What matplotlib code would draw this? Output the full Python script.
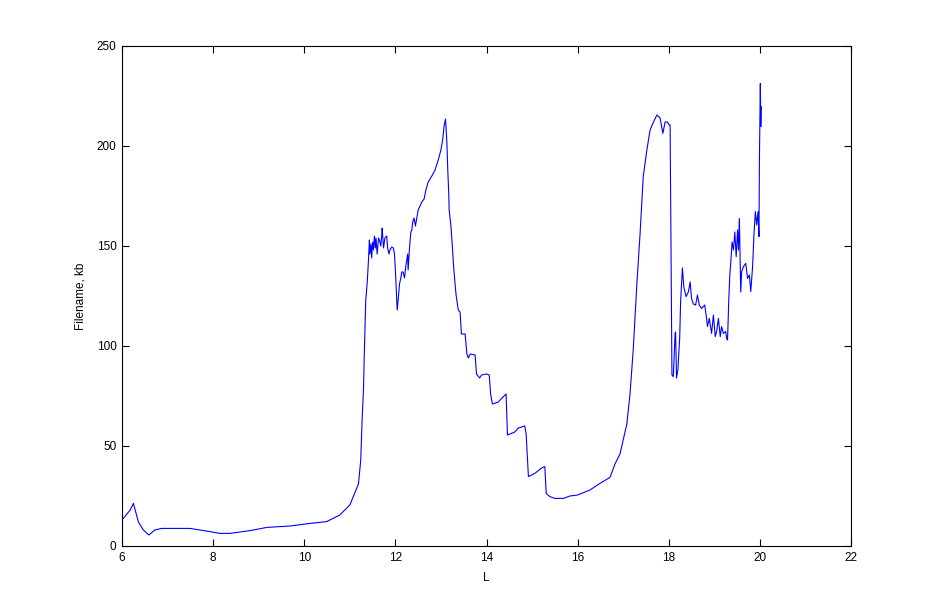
import matplotlib
matplotlib.use('Agg')
import matplotlib.pyplot as plt

# Значення
x_vals = [6.00, 6.18, 6.25, 6.36, 6.47, 6.59, 6.72, 6.87, 7.49, 7.93, 8.15, 8.37, 8.81,
          9.18, 9.69, 10.13, 10.49, 10.78, 11.00, 11.19, 11.24, 11.27, 11.30, 11.32,
          11.35, 11.38, 11.41, 11.43, 11.44, 11.465, 11.48, 11.50, 11.52, 11.54, 11.56,
          11.575, 11.60, 11.63, 11.65, 11.68, 11.70, 11.71, 11.74, 11.77, 11.81, 11.83,
          11.86, 11.88, 11.92, 11.955, 11.98, 12.00, 12.03, 12.04, 12.065, 12.09, 12.12,
          12.14, 12.17, 12.20, 12.23, 12.25, 12.27, 12.28, 12.31, 12.34, 12.36, 12.38,
          12.41, 12.44, 12.47, 12.50, 12.54, 12.58, 12.63, 12.67, 12.72, 12.80, 12.87,
          12.94, 13.00, 13.04, 13.07, 13.10, 13.11, 13.13, 13.15, 13.17, 13.18, 13.22,
          13.25, 13.28, 13.33, 13.38, 13.42, 13.45, 13.53, 13.57, 13.60, 13.64, 13.75,
          13.78, 13.85, 13.89, 14.00, 14.06, 14.09, 14.13, 14.26, 14.33, 14.43, 14.46,
          14.62, 14.70, 14.84, 14.87, 14.92, 15.06, 15.21, 15.28, 15.31, 15.39, 15.50,
          15.69, 15.83, 16.00, 16.27, 16.49, 16.71, 16.82, 16.93, 17.00, 17.08, 17.15,
          17.22, 17.30, 17.37, 17.44, 17.52, 17.59, 17.65, 17.74, 17.81, 17.87, 17.92,
          17.97, 18.01, 18.03, 18.05, 18.07, 18.10, 18.12, 18.14, 18.15, 18.17, 18.20,
          18.24, 18.26, 18.30, 18.33, 18.38, 18.43, 18.47, 18.50, 18.54, 18.59, 18.63,
          18.67, 18.72, 18.79, 18.83, 18.85, 18.89, 18.94, 18.98, 19.02, 19.05, 19.09,
          19.13, 19.16, 19.20, 19.25, 19.27, 19.29, 19.32, 19.34, 19.36, 19.39, 19.42,
          19.45, 19.48, 19.51, 19.53, 19.55, 19.58, 19.60, 19.64, 19.69, 19.73, 19.77,
          19.80, 19.84, 19.87, 19.90, 19.93, 19.96, 19.98, 19.99, 20.01, 20.02, 20.03]
y_vals = [13.0, 18.0, 21.3, 12.0, 8.0, 5.5, 8.0, 8.8, 8.8, 7.2, 6.3, 6.3, 7.7,
          9.3, 10.0, 11.3, 12.2, 15.5, 20.5, 31.0, 43.0, 63.0, 78.0, 98.0,
          123.0, 131.0, 143.0, 153.0, 146.0, 151.0, 144.0, 152.0, 148.0, 155.0, 149.0,
          154.0, 146.0, 154.0, 153.0, 150.0, 155.0, 159.0, 149.0, 154.0, 155.0, 149.0,
          146.0, 148.0, 149.5, 149.0, 146.0, 138.0, 123.0, 118.0, 124.0, 131.0, 134.0,
          137.0, 137.0, 134.0, 140.0, 143.0, 146.0, 138.0, 149.0, 157.0, 158.0, 162.0,
          164.0, 160.0, 164.0, 168.0, 170.0, 172.0, 173.5, 178.0, 182.0, 185.0, 188.0,
          193.0, 198.0, 203.5, 210.0, 213.5, 210.0, 202.0, 188.0, 177.0, 168.0, 160.0,
          150.0, 139.0, 126.0, 118.0, 117.0, 106.0, 106.0, 96.0, 94.0, 96.0, 95.5,
          86.0, 84.0, 85.5, 86.0, 85.5, 76.0, 71.0, 72.0, 73.8, 76.0, 55.5,
          57.0, 59.0, 60.0, 56.0, 34.7, 36.3, 39.0, 39.7, 26.3, 24.7, 23.8,
          23.8, 25.0, 25.5, 28.0, 31.3, 34.3, 41.0, 46.0, 53.0, 61.0, 76.0,
          98.0, 131.0, 156.0, 184.7, 198.0, 208.0, 211.3, 215.5, 214.0, 206.3, 212.0,
          212.0, 210.5, 210.5, 148.0, 85.5, 84.7, 95.0, 106.5, 107.0, 84.0, 88.0,
          104.0, 122.0, 139.0, 129.7, 124.7, 127.0, 132.0, 123.8, 121.0, 120.5, 125.5,
          120.5, 118.8, 120.5, 113.8, 109.7, 113.8, 106.3, 115.5, 104.7, 107.2, 113.8,
          104.7, 109.7, 106.3, 107.2, 103.8, 103.0, 124.7, 135.5, 141.3, 152.0, 148.0,
          157.0, 144.7, 158.0, 148.0, 163.8, 127.0, 137.2, 139.7, 141.3, 133.8, 135.5,
          127.2, 139.7, 155.5, 167.2, 160.5, 167.2, 154.7, 193.0, 231.3, 209.7, 219.7]

x_ticks = [6, 8, 10, 12, 14, 16, 18, 20, 22]
y_ticks = [0, 50, 100, 150, 200, 250]

plt.rcParams['font.family'] = ['Liberation Sans', 'DejaVu Sans']

fig = plt.figure(figsize=(9.41, 6.13), dpi=100)
ax = fig.add_axes([122 / 941, 67 / 613, 729 / 941, 500 / 613])

ax.plot(x_vals, y_vals, color='#0000ff', linewidth=0.8)

ax.set_xlim(6, 22)
ax.set_ylim(0, 250)
ax.set_xticks(x_ticks)
ax.set_yticks(y_ticks)
ax.tick_params(direction='in', length=5, width=0.8, labelsize=8.5, pad=4,
               top=True, right=True)
for s in ax.spines.values():
    s.set_linewidth(0.8)

ax.set_xlabel('L', fontsize=8.5, labelpad=6)
ax.set_ylabel('Filename, kb', fontsize=8.5, labelpad=7)

fig.savefig('out.png', dpi=100, facecolor='white')
